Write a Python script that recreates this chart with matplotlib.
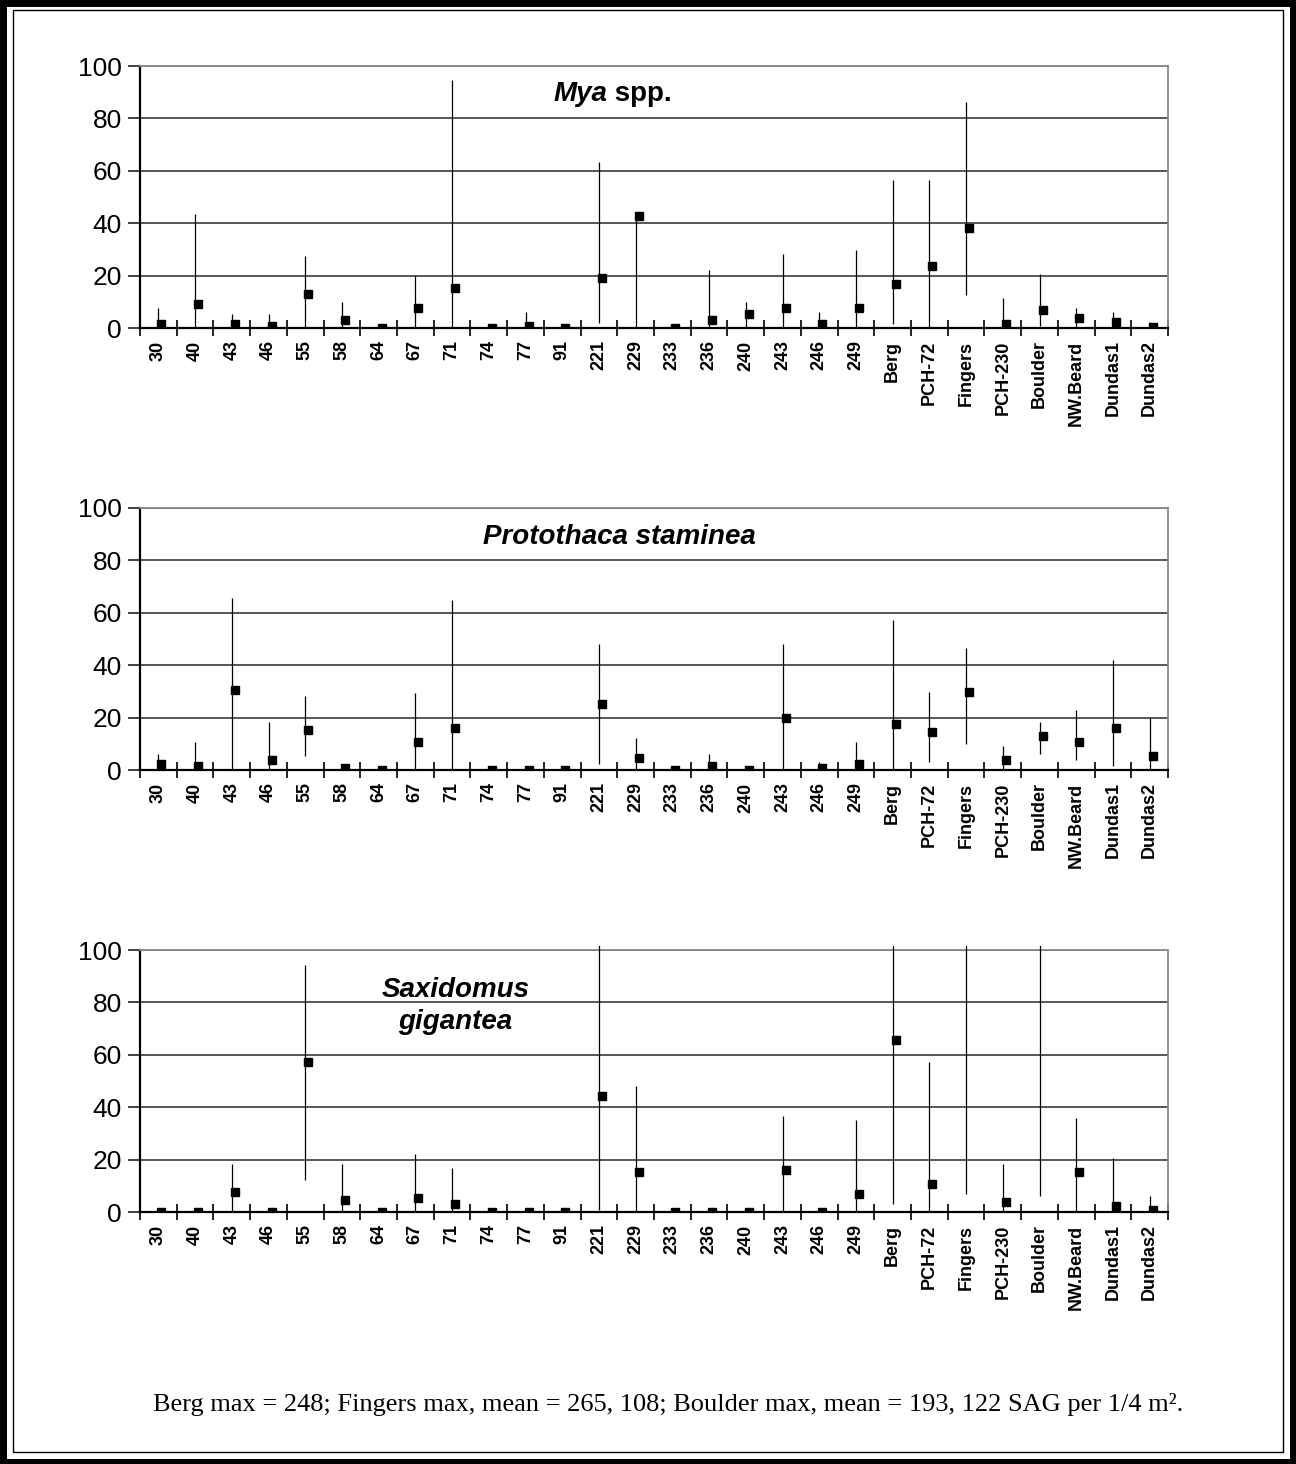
import matplotlib
matplotlib.use("Agg")
import matplotlib.pyplot as plt
import matplotlib.transforms as mtransforms
from matplotlib.patches import Rectangle
import numpy as np

plt.rcParams['font.family'] = ['Liberation Sans', 'DejaVu Sans']

# Sampling sites (x categories)
sites = ["30", "40", "43", "46", "55", "58", "64", "67", "71", "74", "77", "91",
         "221", "229", "233", "236", "240", "243", "246", "249", "Berg", "PCH-72",
         "Fingers", "PCH-230", "Boulder", "NW.Beard", "Dundas1", "Dundas2"]

# Mya spp.: max, min, mean (SAG per 1/4 m2)
mya_high = [7.8, 43.5, 5.5, 5.5, 27.5, 9.9, 0, 19.8, 94.7, 0, 6.1, 0,
            63.4, 43.5, 0, 22.1, 9.9, 28.2, 6.1, 29.8, 56.5, 56.5,
            86.1, 11.5, 20.6, 7.6, 6.1, 2.3]
mya_low = [0, 0, 0, 0, 0.4, 0, 0, 0, 0, 0, 0, 0,
           2.0, 0, 0, 0, 0, 0, 0, 0, 1.5, 0,
           12.7, 0, 0.6, 0, 0, 0]
mya_mean = [1.5, 9.0, 1.4, 0.8, 13.0, 3.1, 0, 7.5, 15.3, 0, 0.8, 0,
            19.1, 42.7, 0, 3.1, 5.3, 7.5, 1.4, 7.5, 16.8, 23.7,
            38.2, 1.4, 6.9, 3.8, 2.3, 0.2]

# Protothaca staminea
pro_high = [6.2, 10.8, 65.8, 18.4, 28.2, 2.4, 0, 29.3, 65.0, 0, 0, 0,
            48.1, 12.2, 0, 6.2, 0, 48.1, 3.1, 10.8, 57.3, 29.9,
            46.6, 9.2, 18.3, 23.0, 42.0, 19.8]
pro_low = [0, 0, 0, 0, 5.2, 0, 0, 0, 0, 0, 0, 0,
           2.3, 0, 0, 0, 0, 0, 0, 0, 0, 3.1,
           9.8, 0, 6.1, 3.8, 1.5, 0]
pro_mean = [2.3, 1.4, 30.5, 3.8, 15.3, 0.8, 0, 10.7, 16.0, 0, 0, 0,
            25.2, 4.6, 0, 1.5, 0, 19.8, 0.9, 2.3, 17.6, 14.5,
            29.8, 3.8, 13.0, 10.7, 16.0, 5.3]

# Saxidomus gigantea
sax_high = [0, 1.5, 18.4, 0, 94.1, 18.4, 0, 22.3, 16.9, 0, 0, 0,
            120, 48.2, 0, 0, 0, 36.8, 0, 35.2, 248, 57.3,
            265, 18.4, 193, 35.9, 20.6, 6.1]
sax_low = [0, 0, 0, 0, 12.2, 0, 0, 0, 0, 0, 0, 0,
           0.8, 0, 0, 0, 0, 0, 0, 0, 3.1, 0,
           6.9, 0, 6.1, 0, 0, 0]
sax_mean = [0, 0, 7.6, 0, 57.3, 4.6, 0, 5.3, 3.1, 0, 0, 0,
            44.3, 15.4, 0, 0, 0, 16.2, 0, 6.9, 65.6, 10.7,
            108, 3.8, 122, 15.4, 2.3, 0.8]

y_ticks = [0, 20, 40, 60, 80, 100]

W, H = 1296, 1464
fig = plt.figure(figsize=(W / 100, H / 100), dpi=100)

# page frame: heavy outer rule and thin inner rule
fig.patches.append(Rectangle((3 / W, 2.5 / H), (W - 6) / W, (H - 5) / H,
                             transform=fig.transFigure, fill=False,
                             edgecolor="black", linewidth=5))
fig.patches.append(Rectangle((12.5 / W, 12.5 / H), (W - 25.5) / W, (H - 22) / H,
                             transform=fig.transFigure, fill=False,
                             edgecolor="black", linewidth=1))

left = 140 / W
width = 1028 / W
height = 262 / H
bottoms = [1 - 328 / H, 1 - 770 / H, 1 - 1212 / H]

panels = [
    (mya_high, mya_low, mya_mean),
    (pro_high, pro_low, pro_mean),
    (sax_high, sax_low, sax_mean),
]

x = np.arange(len(sites)) + 0.5

axes = []
for (hi, lo, mn), b in zip(panels, bottoms):
    ax = fig.add_axes([left, b, width, height])
    ax.set_xlim(0, len(sites))
    ax.set_ylim(0, 100)

    # gridlines
    for yv in y_ticks[1:]:
        ax.axhline(yv, color="#4a4a4a", linewidth=1.3, zorder=1)

    # high-low bars may run a little past the top of the plot area
    clip = Rectangle((0, -0.02), 1, 1.036, transform=ax.transAxes)
    vl = ax.vlines(x, lo, hi, colors="black", linewidth=0.9, zorder=3)
    vl.set_clip_path(clip)

    offset = mtransforms.ScaledTranslation(3 / 100, 0, fig.dpi_scale_trans)
    ax.plot(x, mn, linestyle="none", marker="s", markersize=5.4,
            markerfacecolor="black", markeredgecolor="black",
            transform=ax.transData + offset, zorder=4, clip_on=True)

    for side in ["top", "right"]:
        ax.spines[side].set_color("#8a8a8a")
        ax.spines[side].set_linewidth(1.3)
    for side in ["left", "bottom"]:
        ax.spines[side].set_color("black")
        ax.spines[side].set_linewidth(1.6)

    ax.set_yticks(y_ticks)
    ax.set_yticklabels([str(v) for v in y_ticks], fontsize=19)
    ax.tick_params(axis="y", direction="out", length=9, width=1.3,
                   color="#333333", pad=4)

    ax.set_xticks(np.arange(len(sites) + 1))
    ax.set_xticklabels([])
    ax.tick_params(axis="x", which="major", direction="inout", length=12,
                   width=1.2, color="black")
    ax.set_xticks(x, minor=True)
    ax.set_xticklabels(sites, minor=True, rotation=90, fontsize=13,
                       fontweight="bold", va="top", ha="center")
    ax.tick_params(axis="x", which="minor", length=0, pad=9)
    axes.append(ax)

mya = axes[0].text(0.402, 0.892, "Mya", transform=axes[0].transAxes,
                   fontsize=20, fontweight="bold", fontstyle="italic",
                   ha="left", va="center")
axes[0].annotate(" spp.", xy=(1, 0), xycoords=mya, fontsize=20,
                 fontweight="bold", ha="left", va="bottom")
axes[1].text(0.466, 0.889, "Protothaca staminea", transform=axes[1].transAxes,
             fontsize=20, fontweight="bold", fontstyle="italic",
             ha="center", va="center")
axes[2].text(0.307, 0.788, "Saxidomus\ngigantea", transform=axes[2].transAxes,
             fontsize=20, fontweight="bold", fontstyle="italic",
             ha="center", va="center", linespacing=1.3)

fig.text(668 / W, 1 - 1405 / H,
         "Berg max = 248; Fingers max, mean = 265, 108; Boulder max, mean = "
         "193, 122 SAG per 1/4 m\u00b2.",
         family=["Liberation Serif", "DejaVu Serif"], fontsize=19,
         ha="center", va="center")

fig.savefig("out.png", dpi=100)
